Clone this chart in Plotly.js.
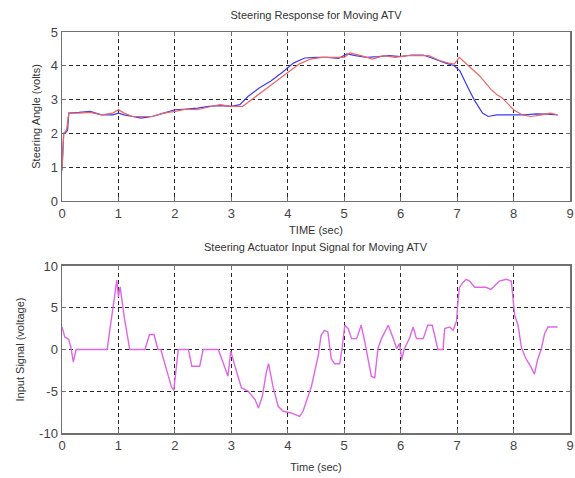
<!DOCTYPE html>
<html>
<head>
<meta charset="utf-8">
<script src="https://cdn.plot.ly/plotly-3.0.1.min.js"></script>
<style>html,body{margin:0;padding:0;background:#fff;}#chart{width:575px;height:478px;}</style>
</head>
<body>
<div id="chart"></div>
<script>
// Top plot: steering response (volts) vs time (sec)
const blueT = [0, 0.03, 0.08, 0.1, 0.12, 0.3, 0.5, 0.7, 0.9, 1.0, 1.1, 1.25, 1.4, 1.6, 1.8, 2.0, 2.2, 2.4, 2.6, 2.8, 3.0, 3.15, 3.3, 3.5, 3.7, 3.9, 4.1, 4.3, 4.5, 4.7, 4.9, 5.05, 5.2, 5.4, 5.6, 5.8, 6.0, 6.2, 6.4, 6.6, 6.8, 6.95, 7.05, 7.15, 7.3, 7.45, 7.55, 7.7, 8.0, 8.2, 8.4, 8.6, 8.78];
const blueV = [0.9, 2.0, 2.05, 2.1, 2.6, 2.62, 2.65, 2.55, 2.55, 2.6, 2.55, 2.5, 2.45, 2.5, 2.6, 2.7, 2.72, 2.75, 2.8, 2.82, 2.8, 2.85, 3.1, 3.35, 3.55, 3.8, 4.08, 4.23, 4.25, 4.25, 4.22, 4.35, 4.3, 4.25, 4.27, 4.3, 4.27, 4.32, 4.32, 4.2, 4.08, 4.0, 3.85, 3.5, 3.0, 2.6, 2.5, 2.55, 2.55, 2.55, 2.58, 2.57, 2.55];
const redT = [0, 0.03, 0.08, 0.12, 0.3, 0.5, 0.7, 0.9, 1.0, 1.1, 1.25, 1.4, 1.6, 1.8, 2.0, 2.2, 2.4, 2.6, 2.8, 3.0, 3.2, 3.4, 3.6, 3.8, 4.0, 4.2, 4.4, 4.6, 4.8, 5.0, 5.1, 5.3, 5.5, 5.7, 5.9, 6.1, 6.3, 6.5, 6.7, 6.85, 6.95, 7.04, 7.2, 7.4, 7.6, 7.7, 7.8, 8.0, 8.15, 8.3, 8.5, 8.65, 8.78];
const redV = [0.9, 2.0, 2.1, 2.6, 2.6, 2.62, 2.55, 2.6, 2.7, 2.6, 2.5, 2.5, 2.5, 2.6, 2.65, 2.72, 2.7, 2.78, 2.85, 2.8, 2.8, 3.05, 3.3, 3.55, 3.8, 4.05, 4.2, 4.25, 4.25, 4.25, 4.38, 4.3, 4.2, 4.3, 4.25, 4.3, 4.3, 4.3, 4.15, 4.08, 4.05, 4.25, 4.0, 3.7, 3.3, 3.15, 3.05, 2.7, 2.55, 2.5, 2.55, 2.6, 2.55];

// Bottom plot: actuator input signal (voltage) vs time (sec)
const sigT = [0, 0.05, 0.12, 0.16, 0.2, 0.25, 0.8, 0.85, 0.91, 0.97, 1.0, 1.03, 1.1, 1.2, 1.47, 1.55, 1.63, 1.7, 1.75, 1.83, 1.94, 1.98, 2.06, 2.24, 2.3, 2.44, 2.5, 2.77, 2.85, 2.94, 2.99, 3.06, 3.18, 3.3, 3.42, 3.48, 3.55, 3.62, 3.66, 3.74, 3.83, 3.92, 4.06, 4.21, 4.27, 4.42, 4.54, 4.59, 4.65, 4.71, 4.77, 4.83, 4.92, 4.96, 5.01, 5.07, 5.13, 5.22, 5.3, 5.36, 5.48, 5.54, 5.6, 5.66, 5.78, 5.87, 5.93, 5.98, 6.02, 6.06, 6.16, 6.22, 6.28, 6.4, 6.48, 6.56, 6.66, 6.75, 6.78, 6.87, 6.93, 6.99, 7.01, 7.04, 7.1, 7.16, 7.22, 7.31, 7.51, 7.6, 7.66, 7.75, 7.87, 7.96, 7.99, 8.02, 8.08, 8.14, 8.22, 8.31, 8.37, 8.43, 8.49, 8.55, 8.61, 8.78];
const sigV = [2.7, 1.5, 1.2, 0.2, -1.5, 0, 0, 2.5, 5.3, 8.3, 6.3, 7.5, 4, 0, 0, 1.8, 1.8, 0, 0, -1.9, -4.5, -4.9, 0, 0, -2, -2, 0, 0, -1.5, -3.2, -0.2, -1.9, -4.6, -5.0, -6, -7, -5.6, -2.7, -1.7, -4.5, -6.8, -7.4, -7.6, -8.0, -7.4, -4.4, -0.7, 1.7, 2.3, 2.1, -1.1, -1.7, -1.7, 0, 2.9, 2.5, 1.3, 1.3, 2.9, 1.1, -3.2, -3.4, 0.2, 1.3, 2.9, 1.3, 0.1, 0.7, -1.2, 0, 1.4, 2.7, 1.3, 1.3, 2.9, 2.9, 0, 0, 2.5, 2.7, 2.3, 3.4, 5.3, 7.4, 8.0, 8.4, 8.2, 7.45, 7.45, 7.2, 7.6, 8.2, 8.4, 8.2, 6.15, 4.1, 2.9, 0.2, -1.1, -2.1, -2.95, -1.1, 0, 1.9, 2.7, 2.7];

const xTicks = [0, 1, 2, 3, 4, 5, 6, 7, 8, 9];
const xTickText = ['0', '1', '2', '3', '4', '5', '6', '7', '8', '9'];
const y1Ticks = [0, 1, 2, 3, 4, 5];
const y1TickText = ['0', '1', '2', '3', '4', '5'];
const y2Ticks = [-10, -5, 0, 5, 10];
const y2TickText = ['-10', '-5', '0', '5', '10'];

const fontFam = 'Liberation Sans, Arial, sans-serif';
const frameCol = '#707070';
const titleSize = 11;

function axisBase(extra) {
  return Object.assign({
    showline: true, mirror: 'ticks', linecolor: frameCol, linewidth: 1.5,
    ticks: 'inside', ticklen: 4, tickcolor: frameCol, tickwidth: 1,
    showgrid: true, gridcolor: '#262626', gridwidth: 1, griddash: '4px,3px',
    zeroline: false, tickfont: {family: fontFam, size: 13, color: '#444'},
    fixedrange: true
  }, extra);
}

const traces = [
  {x: blueT, y: blueV, type: 'scatter', mode: 'lines', line: {color: '#3c3cf0', width: 1.2, simplify: false}, xaxis: 'x', yaxis: 'y', name: 'blue'},
  {x: redT, y: redV, type: 'scatter', mode: 'lines', line: {color: '#f06464', width: 1.2, simplify: false}, xaxis: 'x', yaxis: 'y', name: 'red'},
  {x: sigT, y: sigV, type: 'scatter', mode: 'lines', line: {color: '#e066e6', width: 1.4, simplify: false}, xaxis: 'x2', yaxis: 'y2', name: 'signal'}
];

const layout = {
  width: 575, height: 478,
  margin: {l: 62, r: 5, t: 32, b: 45},
  paper_bgcolor: '#fff', plot_bgcolor: '#fff',
  showlegend: false,
  font: {family: fontFam, color: '#333'},
  title: {text: 'Steering Response for Moving ATV', font: {family: fontFam, size: titleSize, color: '#333'},
          x: 0.5, xref: 'paper', y: 1 - 15/478, yref: 'container', yanchor: 'middle'},
  xaxis: axisBase({domain: [0, 1], range: [0, 9], anchor: 'y', tickvals: xTicks, ticktext: xTickText,
    title: {text: 'TIME (sec)', font: {family: fontFam, size: titleSize, color: '#333'}, standoff: 6}}),
  yaxis: axisBase({domain: [0.5786, 1], range: [0, 5], anchor: 'x', tickvals: y1Ticks, ticktext: y1TickText,
    title: {text: 'Steering Angle (volts)', font: {family: fontFam, size: titleSize, color: '#333'}, standoff: 8}}),
  xaxis2: axisBase({domain: [0, 1], range: [0, 9], anchor: 'y2', tickvals: xTicks, ticktext: xTickText,
    title: {text: 'Time (sec)', font: {family: fontFam, size: titleSize, color: '#333'}, standoff: 11}}),
  yaxis2: axisBase({domain: [0, 0.4165], range: [-10, 10], anchor: 'x2', tickvals: y2Ticks, ticktext: y2TickText,
    title: {text: 'Input Signal (voltage)', font: {family: fontFam, size: titleSize, color: '#333'}, standoff: 12}}),
  annotations: [
    {text: 'Steering Actuator Input Signal for Moving ATV', xref: 'paper', yref: 'paper', x: 0.5, y: (433 - 247) / 401,
     xanchor: 'center', yanchor: 'middle', showarrow: false, font: {family: fontFam, size: titleSize, color: '#333'}}
  ]
};

Plotly.newPlot('chart', traces, layout, {staticPlot: true, displayModeBar: false});
</script>
</body>
</html>
